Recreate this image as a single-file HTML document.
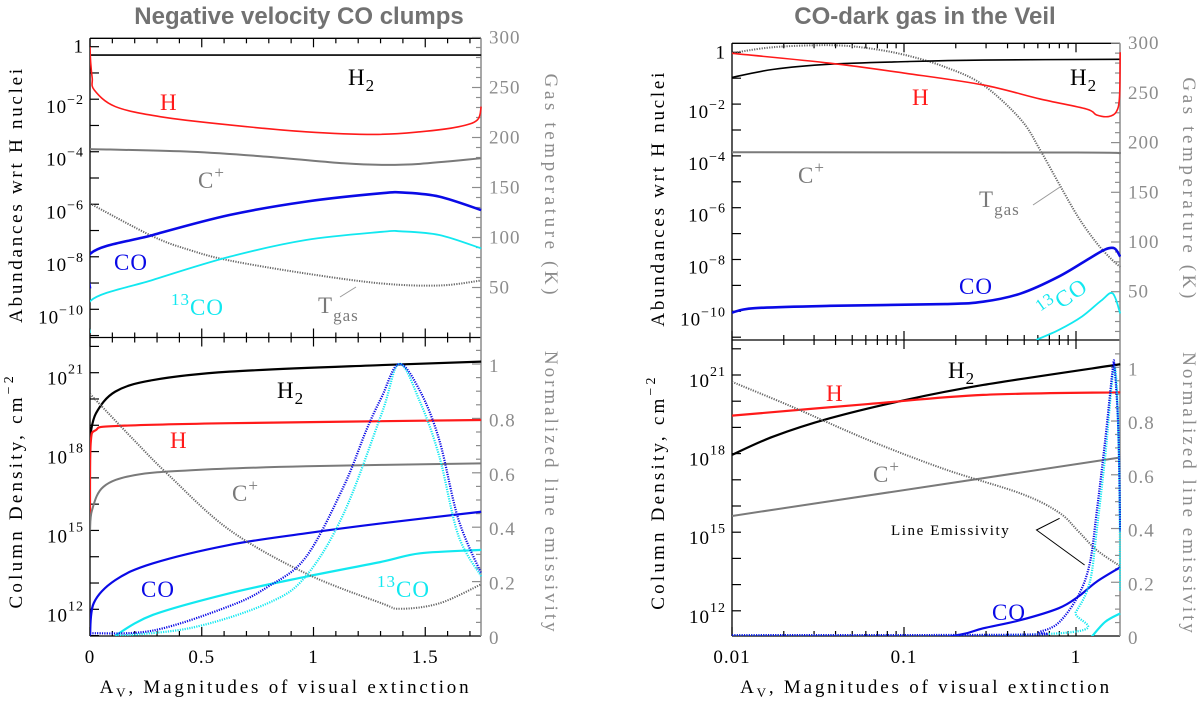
<!DOCTYPE html>
<html><head><meta charset="utf-8"><style>
html,body{margin:0;padding:0;background:#fff;}
svg{display:block;}
text{font-family:"Liberation Serif",serif;}
.t{font-family:"Liberation Sans",sans-serif;font-weight:bold;fill:#727272;font-size:24px;}
</style></head><body>
<svg id="c" width="1200" height="701" viewBox="0 0 1200 701">
<text class="t" x="299" y="24" text-anchor="middle">Negative velocity CO clumps</text>
<text class="t" x="925" y="24" text-anchor="middle">CO-dark gas in the Veil</text>
</svg>
<script>
// ===== LEFT PANEL DATA (x = Av) =====
const L_H2_x=[0,1.75]; const L_H2_y=[-0.32,-0.32];
const L_H_x=[0,0.003,0.01,0.019,0.113,0.317,0.624,0.966,1.273,1.477,1.648,1.733,1.75];
const L_H_y=[0,-0.6,-1.2,-1.65,-2.28,-2.67,-2.98,-3.24,-3.34,-3.24,-3.05,-2.79,-2.28];
const L_Cp_x=[0,0.453,0.794,1.135,1.306,1.477,1.75];
const L_Cp_y=[-3.9,-4.0,-4.19,-4.44,-4.5,-4.46,-4.25];
const L_CO_x=[0,0.003,0.282,0.624,0.966,1.306,1.41,1.563,1.75];
const L_CO_y=[-9.2,-7.87,-7.17,-6.41,-5.9,-5.58,-5.56,-5.71,-6.22];
const L_13_x=[0,0.003,0.282,0.624,0.966,1.306,1.39,1.563,1.75];
const L_13_y=[-10.9,-9.67,-8.88,-8.0,-7.36,-7.05,-7.03,-7.17,-7.68];
const L_T_x=[0,0.282,0.453,0.624,0.966,1.306,1.563,1.75];
const L_T_y=[134,101,87,77,64,54,52,57];
const LB_H2_x=[0,0.027,0.113,0.282,0.624,1.306,1.75];
const LB_H2_y=[18.57,19.46,20.28,20.72,21.04,21.29,21.42];
const LB_H_x=[0,0.003,0.027,0.113,0.624,1.75];
const LB_H_y=[15.52,18.31,18.82,18.97,19.08,19.2];
const LB_Cp_x=[0,0.009,0.06,0.197,0.453,0.966,1.75];
const LB_Cp_y=[15.0,15.77,16.66,17.1,17.29,17.44,17.55];
const LB_CO_x=[0,0.017,0.113,0.282,0.624,0.966,1.306,1.75];
const LB_CO_y=[11.0,12.24,13.11,13.75,14.45,14.89,15.27,15.71];
const LB_13_x=[0.113,0.282,0.624,0.966,1.306,1.477,1.75];
const LB_13_y=[11.0,11.79,12.61,13.24,13.81,14.13,14.26];
const LB_Ce_x=[0,0.197,0.354,0.624,0.966,1.306,1.39,1.563,1.75];
const LB_Ce_y=[0.89,0.72,0.59,0.39,0.23,0.12,0.1,0.12,0.19];
const LB_COe_x=[0,0.282,0.624,0.794,0.966,1.135,1.238,1.306,1.383,1.477,1.563,1.648,1.75];
const LB_COe_y=[0.01,0.02,0.11,0.18,0.29,0.55,0.76,0.88,1.0,0.9,0.72,0.43,0.23];
const LB_13e_x=[0.113,0.453,0.794,0.966,1.135,1.306,1.383,1.477,1.563,1.648,1.75];
const LB_13e_y=[0,0.03,0.12,0.22,0.45,0.82,1.0,0.86,0.66,0.37,0.22];
// ===== RIGHT PANEL DATA (x = log10 Av) =====
const R_H2_x=[-2,-1.76,-1.43,-0.99,-0.54,0.257]; const R_H2_y=[-0.97,-0.66,-0.46,-0.36,-0.30,-0.27];
const R_H_x=[-2,-1.43,-0.99,-0.54,-0.21,0.06,0.12,0.19,0.235,0.253,0.257];
const R_H_y=[-0.04,-0.42,-0.81,-1.26,-1.80,-2.19,-2.42,-2.48,-2.29,-1.71,0];
const R_Cp_x=[-2,0.0,0.257]; const R_Cp_y=[-3.86,-3.87,-3.9];
const R_CO_x=[-2,-1.87,-1.43,-0.76,-0.54,-0.32,-0.10,0.08,0.17,0.224,0.257];
const R_CO_y=[-10.05,-9.88,-9.79,-9.72,-9.63,-9.31,-8.66,-7.95,-7.61,-7.57,-7.89];
const R_13_x=[-0.23,-0.10,0.035,0.146,0.213,0.257]; const R_13_y=[-11.1,-10.72,-10.2,-9.59,-9.31,-10.08];
const R_T_x=[-2,-1.76,-1.43,-1.21,-0.99,-0.76,-0.54,-0.32,-0.21,-0.10,0.013,0.12,0.21,0.257];
const R_T_y=[290,296,298,295,288,276,258,223,193,159,125,99,82,75];
const RB_H2_x=[-2,-1.76,-1.43,-0.99,-0.54,0.257]; const RB_H2_y=[17.95,18.65,19.35,20.05,20.62,21.41];
const RB_H_x=[-2,-1.21,-0.54,0.257]; const RB_H_y=[19.45,19.89,20.24,20.34];
const RB_Cp_x=[-2,0.257]; const RB_Cp_y=[15.62,17.85];
const RB_CO_x=[-0.8,-0.65,-0.54,-0.32,-0.10,0.013,0.12,0.257]; const RB_CO_y=[10.95,11.12,11.33,11.65,12.1,12.54,13.11,13.66];
const RB_13_x=[0.09,0.17,0.257]; const RB_13_y=[11.0,11.58,11.9];
const RB_Ce_x=[-2,-1.65,-1.21,-0.76,-0.32,-0.10,0.013,0.12,0.257]; const RB_Ce_y=[0.946,0.853,0.73,0.62,0.53,0.46,0.39,0.32,0.26];
const RB_COe_x=[-2,-0.32,-0.21,-0.10,0.013,0.08,0.12,0.17,0.213,0.224,0.246,0.257];
const RB_COe_y=[0.003,0.005,0.016,0.05,0.15,0.27,0.46,0.73,0.99,1.0,0.77,0.39];
const RB_13e_x=[-2,-0.10,0.0,0.08,0.12,0.17,0.224,0.25,0.257];
const RB_13e_y=[0.002,0.01,0.09,0.2,0.39,0.67,1.0,0.66,0.17];
// tick labels
const L_xticks=["0","0.5","1","1.5"]; const R_xticks=["0.01","0.1","1"];
const T_ticks=["50","100","150","200","250","300"]; const E_ticks=["0","0.2","0.4","0.6","0.8","1"];

const NS="http://www.w3.org/2000/svg";
const svg=document.getElementById('c');
function mk(tag,attrs,parent){const e=document.createElementNS(NS,tag);for(const k in attrs)e.setAttribute(k,attrs[k]);(parent||svg).appendChild(e);return e;}
function path(pts){
  if(pts.length<3) return 'M'+pts.map(p=>p[0].toFixed(2)+','+p[1].toFixed(2)).join('L');
  let d='M'+pts[0][0].toFixed(2)+','+pts[0][1].toFixed(2);
  for(let i=0;i<pts.length-1;i++){
    const p0=pts[i-1]||pts[i],p1=pts[i],p2=pts[i+1],p3=pts[i+2]||p2;
    const c1=[p1[0]+(p2[0]-p0[0])/6,p1[1]+(p2[1]-p0[1])/6];
    const c2=[p2[0]-(p3[0]-p1[0])/6,p2[1]-(p3[1]-p1[1])/6];
    d+='C'+c1.map(v=>v.toFixed(2))+' '+c2.map(v=>v.toFixed(2))+' '+p2[0].toFixed(2)+','+p2[1].toFixed(2);
  }
  return d;
}
let clipN=0;
function clip(x0,y0,x1,y1){const id='cl'+(clipN++);const cp=mk('clipPath',{id:id});mk('rect',{x:x0,y:y0,width:x1-x0,height:y1-y0},cp);return 'url(#'+id+')';}
function series(g,xs,ys,fx,fy,style,name){
  const pts=xs.map((v,i)=>[fx(v),fy(ys[i])]);
  const p=mk('path',Object.assign({d:path(pts),fill:'none'},style),g);
  
  
}
function txt(x,y,s,attrs,name){const t=mk('text',Object.assign({x:x,y:y},attrs||{}));t.innerHTML=s;return t;}
const RED='#ff1a1a',BLUE='#0a0ae6',CYAN='#12e8f0',GRAY='#7a7a7a',LG='#8c8c8c';
const sH2={stroke:'#000','stroke-width':1.6},sH={stroke:RED,'stroke-width':1.6},sCp={stroke:GRAY,'stroke-width':2},
 sCO={stroke:BLUE,'stroke-width':2.6},s13={stroke:CYAN,'stroke-width':1.8},sT={stroke:'#666','stroke-width':2,'stroke-dasharray':'1.2 1.3'},
 sCOe={stroke:BLUE,'stroke-width':2.2,'stroke-dasharray':'1.2 1.2'},s13e={stroke:CYAN,'stroke-width':2.2,'stroke-dasharray':'1.2 1.2'};
const sCOb={stroke:BLUE,'stroke-width':2.2},s13b={stroke:CYAN,'stroke-width':2.2},sH2b={stroke:'#000','stroke-width':2.2},sHb={stroke:RED,'stroke-width':2.2};

function panel(P){
  const {x0,x1,top,mid,bot,fx,fa,ft,fn,fe}=P;
  const gf=mk('g',{});
  const line=(a,b,c,d,col,w)=>mk('line',{x1:a,y1:b,x2:c,y2:d,stroke:col,'stroke-width':w||1.3},gf);
  line(x0,top,x1,top,'#000');line(x0,mid,x1,mid,'#000');line(x0,bot,x1,bot,'#000');
  line(x0,top,x0,bot,'#000');line(x1,top,x1,bot,LG,1.5);
  P.xticks.forEach(t=>{const X=fx(t.v),L=t.major?9:5;
    [[top,1],[mid,-1],[mid,1],[bot,-1]].forEach(([y,s])=>line(X,y,X,y+s*L,'#000',1.2));});
  for(let l=-11;l<=0;l++){const Y=fa(l);if(Y>top&&Y<mid)line(x0,Y,x0+9,Y,'#000',1.2);}
  for(let l=11;l<=22;l++){const Y=fn(l);if(Y>mid&&Y<bot)line(x0,Y,x0+9,Y,'#000',1.2);}
  for(let T=10;T<=300;T+=10){const Y=ft(T);line(x1,Y,x1-(T%50==0?9:5),Y,LG,1.2);}
  for(let i=1;i<=21;i++){const e=i*0.05,Y=fe(e);if(Y>mid)line(x1,Y,x1-(i%4==0?9:5),Y,LG,1.2);}
  const TL={'font-size':19,'letter-spacing':1};
  const lab=[[0,'1'],[-2,'10<tspan dy="-9" font-size="14">−2</tspan>'],[-4,'10<tspan dy="-9" font-size="14">−4</tspan>'],[-6,'10<tspan dy="-9" font-size="14">−6</tspan>'],[-8,'10<tspan dy="-9" font-size="14">−8</tspan>'],[-10,'10<tspan dy="-9" font-size="14">−10</tspan>']];
  lab.forEach(([l,s])=>txt(x0-6,fa(l)+(l==0?6:14),s,Object.assign({'text-anchor':'end'},TL),P.id+'-abund-tick-label'));
  [[21,'21'],[18,'18'],[15,'15'],[12,'12']].forEach(([l,s])=>txt(x0-6,fn(l)+12,'10<tspan dy="-11" font-size="14">'+s+'</tspan>',Object.assign({'text-anchor':'end'},TL),P.id+'-coldens-tick-label'));
  T_ticks.forEach(s=>txt(x1+8,ft(+s)+6,s,Object.assign({fill:LG},TL),P.id+'-temp-tick-label'));
  E_ticks.forEach(s=>txt(x1+8,fe(+s)+8,s,Object.assign({fill:LG},TL),P.id+'-emis-tick-label'));
  P.xlabels.forEach(([v,s])=>txt(fx(v),663,s,Object.assign({'text-anchor':'middle'},TL),P.id+'-x-tick-label'));
  const cx=P.ax, AL={'text-anchor':'middle','font-size':19};
  txt(0,0,'Abundances wrt H nuclei',Object.assign({'letter-spacing':4,textLength:258,transform:`translate(${cx},${(top+mid)/2+6}) rotate(-90)`},AL),P.id+'-y-axis-title-top');
  txt(0,0,'Column Density, cm<tspan dy="-9" font-size="14">−2</tspan>',Object.assign({'letter-spacing':3.2,transform:`translate(${cx},${(mid+bot)/2+4}) rotate(-90)`},AL),P.id+'-y-axis-title-bottom');
  txt(0,0,'Gas temperature (K)',Object.assign({fill:LG,'letter-spacing':3.6,transform:`translate(${P.rx},${(top+mid)/2-2}) rotate(90)`},AL),P.id+'-y2-axis-title-top');
  txt(0,0,'Normalized line emissivity',Object.assign({fill:LG,'letter-spacing':3,transform:`translate(${P.rx},${(mid+bot)/2+6}) rotate(90)`},AL),P.id+'-y2-axis-title-bottom');
  txt((x0+x1)/2,693,'A<tspan font-size="13" dy="4">V</tspan><tspan dy="-4">, Magnitudes of visual extinction</tspan>',Object.assign({'letter-spacing':2.8},AL),P.id+'-x-axis-title');
  const gt=mk('g',{'clip-path':clip(x0,top,x1+1,mid),});
  const gb=mk('g',{'clip-path':clip(x0,mid,x1+1,bot),});
  return [gt,gb];
}
// ===== LEFT =====
const LP={id:'left',x0:90,x1:481,top:38.3,mid:337.5,bot:636,ax:22,rx:545,
 fx:v=>90+v*223.5, fa:l=>46.7-l*26.26, ft:T=>337.5-T, fn:l=>372.7-(l-21)*26.29, fe:e=>636-e*272,
 xticks:[],xlabels:[[0,'0'],[0.5,'0.5'],[1,'1'],[1.5,'1.5']]};
for(let i=0;i<=17;i++)LP.xticks.push({v:i/10,major:i%5==0});
let [gt,gb]=panel(LP);
series(gt,L_H2_x,L_H2_y,LP.fx,LP.fa,sH2,'left-h2-abundance');
series(gt,L_H_x,L_H_y,LP.fx,LP.fa,sH,'left-h-abundance');
series(gt,L_Cp_x,L_Cp_y,LP.fx,LP.fa,sCp,'left-cplus-abundance');
series(gt,L_T_x,L_T_y,LP.fx,LP.ft,sT,'left-tgas');
series(gt,L_13_x,L_13_y,LP.fx,LP.fa,s13,'left-13co-abundance');
series(gt,L_CO_x,L_CO_y,LP.fx,LP.fa,sCO,'left-co-abundance');
series(gb,LB_H2_x,LB_H2_y,LP.fx,LP.fn,sH2b,'left-h2-column');
series(gb,LB_H_x,LB_H_y,LP.fx,LP.fn,sHb,'left-h-column');
series(gb,LB_Cp_x,LB_Cp_y,LP.fx,LP.fn,sCp,'left-cplus-column');
series(gb,LB_CO_x,LB_CO_y,LP.fx,LP.fn,sCOb,'left-co-column');
series(gb,LB_13_x,LB_13_y,LP.fx,LP.fn,s13b,'left-13co-column');
series(gb,LB_Ce_x,LB_Ce_y,LP.fx,LP.fe,sT,'left-cplus-emissivity');
series(gb,LB_13e_x,LB_13e_y,LP.fx,LP.fe,s13e,'left-13co-emissivity');
series(gb,LB_COe_x,LB_COe_y,LP.fx,LP.fe,sCOe,'left-co-emissivity');
const lbl=(x,y,s,c,n)=>txt(x,y,s,{'font-size':23,fill:c,'letter-spacing':1},n);
lbl(348,85,'H<tspan dy="6" font-size="17">2</tspan>','#000','left-label-h2');
lbl(160,110,'H',RED,'left-label-h');
lbl(198,188,'C<tspan dy="-10" font-size="17">+</tspan>',GRAY,'left-label-cplus');
lbl(114,270,'CO',BLUE,'left-label-co');
lbl(171,315,'<tspan dy="-10" font-size="17">13</tspan><tspan dy="10">CO</tspan>',CYAN,'left-label-13co');
lbl(318,313,'T<tspan dy="8" font-size="17">gas</tspan>',GRAY,'left-label-tgas');
mk('line',{x1:340,y1:297,x2:356,y2:287,stroke:'#999','stroke-width':1,});
lbl(277,398,'H<tspan dy="6" font-size="17">2</tspan>','#000','left-label-h2-col');
lbl(170,448,'H',RED,'left-label-h-col');
lbl(232,501,'C<tspan dy="-10" font-size="17">+</tspan>',GRAY,'left-label-cplus-col');
lbl(141,597,'CO',BLUE,'left-label-co-col');
lbl(377,597,'<tspan dy="-10" font-size="17">13</tspan><tspan dy="10">CO</tspan>',CYAN,'left-label-13co-col');

// ===== RIGHT =====
const RP={id:'right',x0:732,x1:1120,top:43.3,mid:340,bot:636,ax:664,rx:1183,
 fx:l=>732+(l+2)*172, fa:l=>52.3-l*25.9, ft:T=>341.4-T*0.994, fn:l=>375-(l-21)*26.2, fe:e=>636-e*268.7,
 xticks:[],xlabels:[[-2,'0.01'],[-1,'0.1'],[0,'1']]};
for(let d=-2;d<=0;d++)for(let m=1;m<=9;m++){const l=d+Math.log10(m);if(l<=0.256)RP.xticks.push({v:l,major:m==1});}
[gt,gb]=panel(RP);
series(gt,R_T_x,R_T_y,RP.fx,RP.ft,sT,'right-tgas');
series(gt,R_H2_x,R_H2_y,RP.fx,RP.fa,sH2,'right-h2-abundance');
series(gt,R_H_x,R_H_y,RP.fx,RP.fa,sH,'right-h-abundance');
series(gt,R_Cp_x,R_Cp_y,RP.fx,RP.fa,sCp,'right-cplus-abundance');
series(gt,R_13_x,R_13_y,RP.fx,RP.fa,s13,'right-13co-abundance');
series(gt,R_CO_x,R_CO_y,RP.fx,RP.fa,sCO,'right-co-abundance');
series(gb,RB_H2_x,RB_H2_y,RP.fx,RP.fn,sH2b,'right-h2-column');
series(gb,RB_H_x,RB_H_y,RP.fx,RP.fn,sHb,'right-h-column');
series(gb,RB_Cp_x,RB_Cp_y,RP.fx,RP.fn,sCp,'right-cplus-column');
series(gb,RB_Ce_x,RB_Ce_y,RP.fx,RP.fe,sT,'right-cplus-emissivity');
series(gb,RB_CO_x,RB_CO_y,RP.fx,RP.fn,sCOb,'right-co-column');
series(gb,RB_13_x,RB_13_y,RP.fx,RP.fn,s13b,'right-13co-column');
series(gb,RB_13e_x,RB_13e_y,RP.fx,RP.fe,s13e,'right-13co-emissivity');
series(gb,RB_COe_x,RB_COe_y,RP.fx,RP.fe,sCOe,'right-co-emissivity');
lbl(1070,85,'H<tspan dy="6" font-size="17">2</tspan>','#000','right-label-h2');
lbl(912,105,'H',RED,'right-label-h');
lbl(798,183,'C<tspan dy="-10" font-size="17">+</tspan>',GRAY,'right-label-cplus');
lbl(979,207,'T<tspan dy="8" font-size="17">gas</tspan>',GRAY,'right-label-tgas');
mk('line',{x1:1033,y1:205,x2:1060,y2:187,stroke:'#999','stroke-width':1,});
lbl(959,294,'CO',BLUE,'right-label-co');
txt(0,0,'<tspan dy="-10" font-size="17">13</tspan><tspan dy="10">CO</tspan>',{'font-size':23,fill:CYAN,'letter-spacing':1,transform:'translate(1046,320) rotate(-35)'},'right-label-13co');
lbl(948,378,'H<tspan dy="6" font-size="17">2</tspan>','#000','right-label-h2-col');
lbl(826,401,'H',RED,'right-label-h-col');
lbl(873,482,'C<tspan dy="-10" font-size="17">+</tspan>',GRAY,'right-label-cplus-col');
lbl(992,620,'CO',BLUE,'right-label-co-col');
txt(891,535,'Line Emissivity',{'font-size':15,'letter-spacing':1.6},'right-line-emissivity-label');
mk('polyline',{points:'1059.6,518.3 1036.5,530 1084.6,565',fill:'none',stroke:'#000','stroke-width':1,});
</script>
</body></html>
